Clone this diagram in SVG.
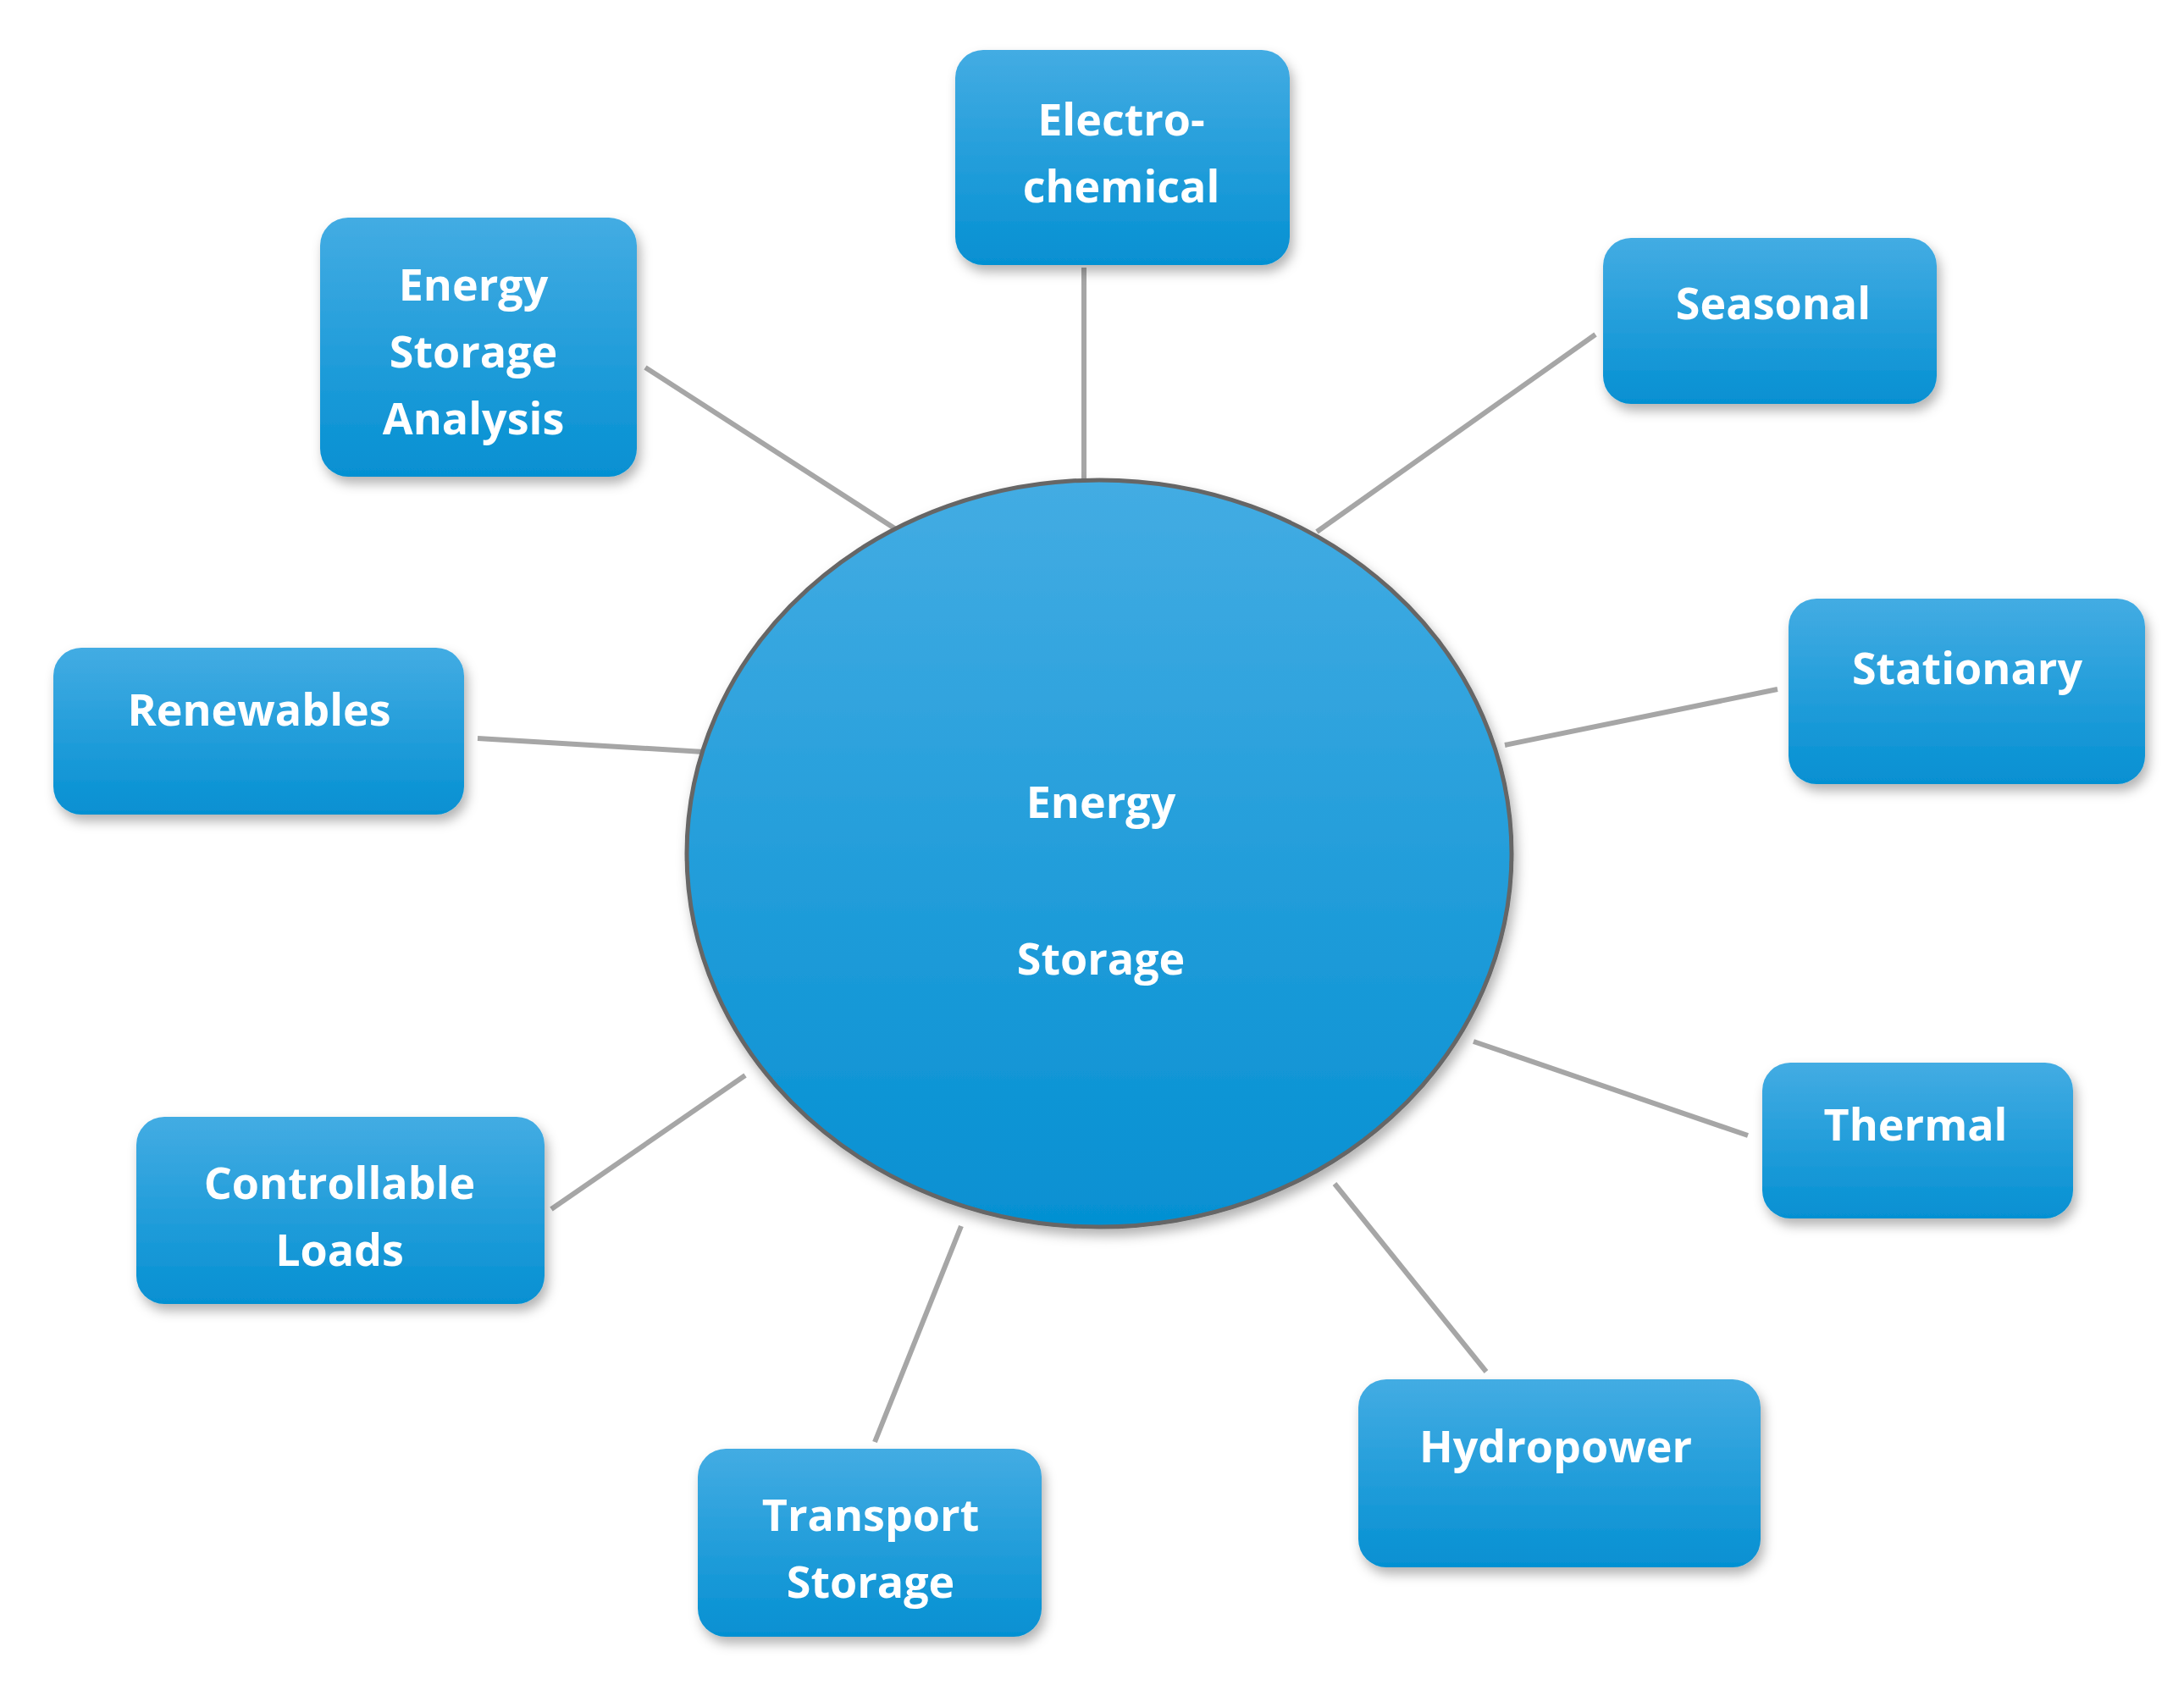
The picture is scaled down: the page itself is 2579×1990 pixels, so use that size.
<svg xmlns="http://www.w3.org/2000/svg" width="2579" height="1990" viewBox="0 0 2579 1990">
<defs>
<linearGradient id="g" x1="0" y1="0" x2="0" y2="1"><stop offset="0" stop-color="#43ace3"/><stop offset="1" stop-color="#0590d2"/></linearGradient>
<filter id="sh" x="-20%" y="-20%" width="140%" height="150%"><feDropShadow dx="4" dy="8" stdDeviation="7" flood-color="#000" flood-opacity="0.3"/></filter>
</defs>
<style>
.b{fill:url(#g);filter:url(#sh)}
.t{font-family:"Open Sans","Liberation Sans",sans-serif;font-weight:bold;font-size:52px;fill:#fff;text-anchor:middle}
.c{stroke:#a6a6a6;stroke-width:6;fill:none}
</style>
<rect width="2579" height="1990" fill="#fff"/>
<g id="connectors">
<line class="c" x1="1280" y1="316" x2="1280" y2="568"/>
<line class="c" x1="762" y1="434" x2="1058" y2="625"/>
<line class="c" x1="1884" y1="395" x2="1555" y2="628"/>
<line class="c" x1="2099" y1="814" x2="1777" y2="880"/>
<line class="c" x1="564" y1="872" x2="831" y2="888"/>
<line class="c" x1="2064" y1="1341" x2="1740" y2="1230"/>
<line class="c" x1="651" y1="1428" x2="880" y2="1270"/>
<line class="c" x1="1755" y1="1620" x2="1576" y2="1398"/>
<line class="c" x1="1033" y1="1703" x2="1135" y2="1448"/>
</g>
<g id="center">
<ellipse cx="1298" cy="1008" rx="487" ry="441" fill="url(#g)" stroke="#666" stroke-width="5" filter="url(#sh)"/>
<text class="t" x="1300" y="966" font-size="132">Energy</text>
<text class="t" x="1300" y="1151" font-size="132">Storage</text>
</g>
<g id="n1"><rect class="b" x="1128" y="59" width="395" height="254" rx="33"/><text class="t" x="1324" y="160">Electro-</text><text class="t" x="1324" y="239">chemical</text></g>
<g id="n2"><rect class="b" x="378" y="257" width="374" height="306" rx="33"/><text class="t" x="559" y="355">Energy</text><text class="t" x="559" y="434">Storage</text><text class="t" x="559" y="513">Analysis</text></g>
<g id="n3"><rect class="b" x="1893" y="281" width="394" height="196" rx="33"/><text class="t" x="2094" y="377">Seasonal</text></g>
<g id="n4"><rect class="b" x="2112" y="707" width="421" height="219" rx="33"/><text class="t" x="2323" y="808">Stationary</text></g>
<g id="n5"><rect class="b" x="63" y="765" width="485" height="197" rx="33"/><text class="t" x="306" y="857">Renewables</text></g>
<g id="n6"><rect class="b" x="2081" y="1255" width="367" height="184" rx="33"/><text class="t" x="2262" y="1347">Thermal</text></g>
<g id="n7"><rect class="b" x="161" y="1319" width="482" height="221" rx="33"/><text class="t" x="401" y="1416">Controllable</text><text class="t" x="401" y="1495">Loads</text></g>
<g id="n8"><rect class="b" x="1604" y="1629" width="475" height="222" rx="33"/><text class="t" x="1837" y="1727">Hydropower</text></g>
<g id="n9"><rect class="b" x="824" y="1711" width="406" height="222" rx="33"/><text class="t" x="1028" y="1808">Transport</text><text class="t" x="1028" y="1887">Storage</text></g>
</svg>
